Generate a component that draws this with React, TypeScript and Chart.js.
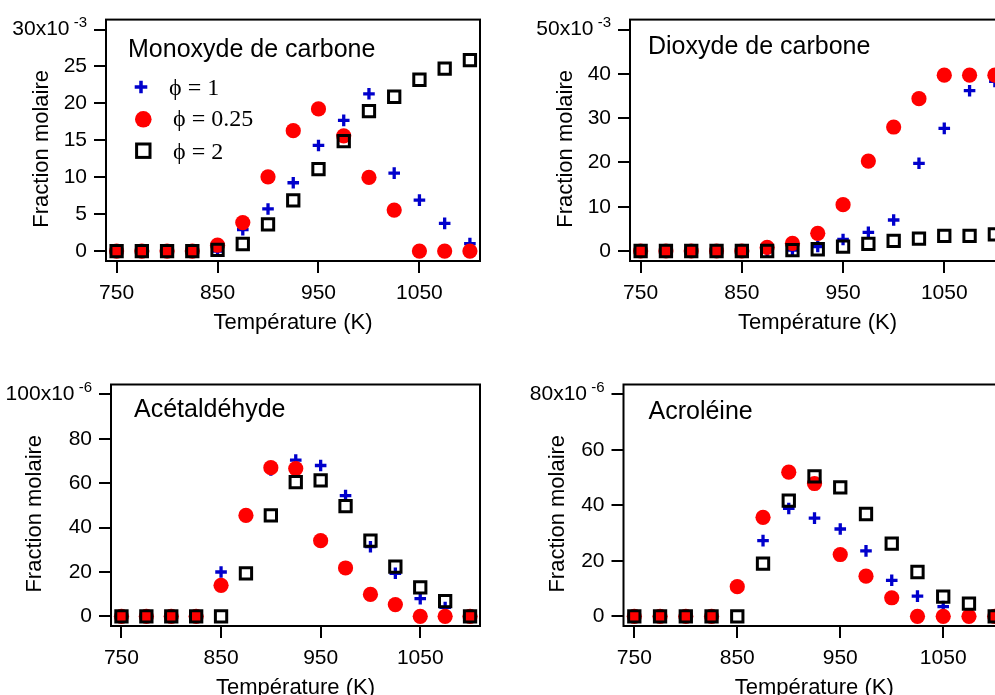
import React, { useEffect, useRef } from "react";
import { Chart, registerables } from "chart.js";

Chart.register(...registerables);

// ---------- data ----------
const TEMPERATURES = [750, 775, 800, 825, 850, 875, 900, 925, 950, 975, 1000, 1025, 1050, 1075, 1100];
const X_TICKS = [750, 850, 950, 1050];
const X_MIN = 739.5;
const X_MAX = 1110;

// Monoxyde de carbone (x10^-3)
const CO_PHI1 = [0, 0, 0, 0, 0, 2.9, 5.7, 9.25, 14.3, 17.7, 21.3, 10.55, 6.9, 3.75, 1.0];
const CO_PHI025 = [0, 0, 0, 0, 0.8, 3.85, 10.05, 16.3, 19.25, 15.6, 9.97, 5.55, 0, 0, 0];
const CO_PHI2 = [0, 0, 0, 0, 0.15, 0.95, 3.6, 6.85, 11.1, 14.9, 18.95, 20.9, 23.2, 24.7, 25.85];
const CO_TICKS = [0, 5, 10, 15, 20, 25, 30];

// Dioxyde de carbone (x10^-3)
const CO2_PHI1 = [0, 0, 0, 0, 0, 0, 0.2, 1.0, 2.6, 4.2, 7.0, 19.8, 27.7, 36.2, 38.3];
const CO2_PHI025 = [0, 0, 0, 0, 0, 0.8, 1.7, 4.0, 10.45, 20.3, 28.0, 34.4, 39.7, 39.7, 39.7];
const CO2_PHI2 = [0, 0, 0, 0, 0, 0, 0.2, 0.4, 1.0, 1.6, 2.3, 2.8, 3.4, 3.4, 3.75];
const CO2_TICKS = [0, 10, 20, 30, 40, 50];

// Acétaldéhyde (x10^-6)
const ACET_PHI1 = [0, 0, 0, 0, 20.0, 45.5, 66.0, 70.4, 68.0, 54.4, 31.4, 19.4, 8.0, 4.0, 0];
const ACET_PHI025 = [0, 0, 0, 0, 14.0, 45.5, 67.0, 66.6, 34.1, 21.8, 9.9, 5.3, 0, 0, 0];
const ACET_PHI2 = [0, 0, 0, 0, 0, 19.4, 45.5, 60.5, 61.3, 49.7, 34.1, 22.4, 13.1, 6.9, 0];
const ACET_TICKS = [0, 20, 40, 60, 80, 100];

// Acroléine (x10^-6)
const ACRO_PHI1 = [0, 0, 0, 0, 10.7, 27.3, 38.9, 35.4, 31.5, 23.6, 13.0, 7.3, 3.5, 0.5, 0];
const ACRO_PHI025 = [0, 0, 0, 0, 10.7, 35.7, 52.0, 47.9, 22.3, 14.5, 6.7, 0, 0, 0, 0];
const ACRO_PHI2 = [0, 0, 0, 0, 0, 19.0, 41.7, 50.5, 46.5, 36.9, 26.2, 16.0, 7.1, 4.6, 0];
const ACRO_TICKS = [0, 20, 40, 60, 80];

const LEGEND_LABELS = ["\u03D5 = 1", "\u03D5 = 0.25", "\u03D5 = 2"];
const X_TITLE = "Température (K)";
const Y_TITLE = "Fraction molaire";

// ---------- styles ----------
const SANS = "'Liberation Sans', Arial, Helvetica, sans-serif";
const SERIF = "'Liberation Serif', 'Times New Roman', serif";
const BLUE = "#0000CC";
const RED = "#FF0000";
const BLACK = "#000000";
const TICK_LEN = 12;
const Y_TICK_PAD = 7;
const TICK_FONT = 21;
const AXIS_TITLE_FONT = 22;

type Area = { left: number; top: number; right: number; bottom: number };
type PanelCfg = {
  key: string;
  left: number;
  top: number;
  width: number;
  height: number;
  area: Area;
  yMin: number;
  yMax: number;
  yTicks: number[];
  phi1: number[];
  phi025: number[];
  phi2: number[];
  title: string;
  exponent: string;
  titleDx: number;
  titleDy: number;
  yTitleDx: number;
  legend: boolean;
};

const PANELS: PanelCfg[] = [
  {
    key: "co", left: 0, top: 0, width: 500, height: 350,
    area: { left: 106, top: 19.5, right: 480, bottom: 261 },
    yMin: -1.35, yMax: 31.35, yTicks: CO_TICKS,
    phi1: CO_PHI1, phi025: CO_PHI025, phi2: CO_PHI2,
    title: "Monoxyde de carbone", exponent: "-3",
    titleDx: 22, titleDy: 37, yTitleDx: -64, legend: true,
  },
  {
    key: "co2", left: 500, top: 0, width: 520, height: 350,
    area: { left: 130, top: 19.5, right: 505, bottom: 261 },
    yMin: -2.26, yMax: 52.26, yTicks: CO2_TICKS,
    phi1: CO2_PHI1, phi025: CO2_PHI025, phi2: CO2_PHI2,
    title: "Dioxyde de carbone", exponent: "-3",
    titleDx: 18, titleDy: 34, yTitleDx: -64, legend: false,
  },
  {
    key: "acet", left: 0, top: 350, width: 500, height: 360,
    area: { left: 111, top: 34.5, right: 480, bottom: 276 },
    yMin: -4.35, yMax: 104.5, yTicks: ACET_TICKS,
    phi1: ACET_PHI1, phi025: ACET_PHI025, phi2: ACET_PHI2,
    title: "Acétaldéhyde", exponent: "-6",
    titleDx: 23, titleDy: 32.5, yTitleDx: -76, legend: false,
  },
  {
    key: "acro", left: 500, top: 350, width: 520, height: 360,
    area: { left: 123.5, top: 34.5, right: 505, bottom: 276 },
    yMin: -3.48, yMax: 83.6, yTicks: ACRO_TICKS,
    phi1: ACRO_PHI1, phi025: ACRO_PHI025, phi2: ACRO_PHI2,
    title: "Acroléine", exponent: "-6",
    titleDx: 25, titleDy: 34, yTitleDx: -66, legend: false,
  },
];

const decorPlugin = {
  id: "panelDecor",
  afterDraw(chart: any) {
    const o = chart.options.plugins.panelDecor;
    if (!o) return;
    const ctx = chart.ctx as CanvasRenderingContext2D;
    const a = chart.chartArea;
    ctx.save();
    // frame
    ctx.strokeStyle = BLACK;
    ctx.lineWidth = 2;
    ctx.strokeRect(a.left, a.top, a.right - a.left, a.bottom - a.top);
    ctx.fillStyle = BLACK;
    // panel title
    ctx.font = `25px ${SANS}`;
    ctx.textAlign = "left";
    ctx.textBaseline = "alphabetic";
    ctx.fillText(o.title, a.left + o.titleDx, a.top + o.titleDy);
    // x title
    ctx.font = `${AXIS_TITLE_FONT}px ${SANS}`;
    ctx.textAlign = "center";
    ctx.fillText(X_TITLE, (a.left + a.right) / 2, a.bottom + 67.5);
    // y title
    ctx.save();
    ctx.translate(a.left + o.yTitleDx, (a.top + a.bottom) / 2 + 8.5);
    ctx.rotate(-Math.PI / 2);
    ctx.textBaseline = "middle";
    ctx.fillText(Y_TITLE, 0, 0);
    ctx.restore();
    // exponent superscript on top tick label
    const ys = chart.scales.y;
    const topVal = o.yTicks[o.yTicks.length - 1];
    const py = ys.getPixelForValue(topVal);
    ctx.font = `15px ${SANS}`;
    ctx.textAlign = "right";
    ctx.textBaseline = "alphabetic";
    ctx.fillText(o.exponent, ys.right - TICK_LEN - Y_TICK_PAD, py - 2.5);
    // legend
    if (o.legend) {
      ctx.strokeStyle = BLUE;
      ctx.lineWidth = 3.5;
      const cx = 141, cy = 87, r = 6.3;
      ctx.beginPath();
      ctx.moveTo(cx - r, cy); ctx.lineTo(cx + r, cy);
      ctx.moveTo(cx, cy - r); ctx.lineTo(cx, cy + r);
      ctx.stroke();
      ctx.fillStyle = RED;
      ctx.beginPath();
      ctx.arc(143.3, 119.3, 8.3, 0, Math.PI * 2);
      ctx.fill();
      ctx.strokeStyle = BLACK;
      ctx.lineWidth = 3;
      ctx.strokeRect(143.3 - 6.7, 150.7 - 6.7, 13.4, 13.4);
      ctx.fillStyle = BLACK;
      ctx.font = `24px ${SERIF}`;
      ctx.textAlign = "left";
      ctx.textBaseline = "alphabetic";
      ctx.fillText(LEGEND_LABELS[0], 169, 95);
      ctx.fillText(LEGEND_LABELS[1], 173, 126);
      ctx.fillText(LEGEND_LABELS[2], 173, 158.5);
    }
    ctx.restore();
  },
};

function Panel({ cfg }: { cfg: PanelCfg }) {
  const ref = useRef<HTMLCanvasElement | null>(null);
  useEffect(() => {
    if (!ref.current) return;
    const toPts = (arr: number[]) => TEMPERATURES.map((t, i) => ({ x: t, y: arr[i] }));
    const topTick = cfg.yTicks[cfg.yTicks.length - 1];
    const chart = new Chart(ref.current, {
      type: "scatter",
      data: {
        datasets: [
          {
            label: LEGEND_LABELS[0],
            data: toPts(cfg.phi1),
            order: 2,
            pointStyle: "cross",
            pointRadius: 5.8,
            pointBorderWidth: 3.3,
            pointBorderColor: BLUE,
            pointBackgroundColor: BLUE,
            showLine: false,
          },
          {
            label: LEGEND_LABELS[1],
            data: toPts(cfg.phi025),
            order: 1,
            pointStyle: "circle",
            pointRadius: 7.6,
            pointBorderWidth: 0,
            pointBorderColor: RED,
            pointBackgroundColor: RED,
            showLine: false,
          },
          {
            label: LEGEND_LABELS[2],
            data: toPts(cfg.phi2),
            order: 0,
            pointStyle: "rect",
            pointRadius: 8,
            pointBorderWidth: 3,
            pointBorderColor: BLACK,
            pointBackgroundColor: "rgba(0,0,0,0)",
            showLine: false,
          },
        ] as any,
      },
      options: {
        responsive: false,
        animation: false,
        devicePixelRatio: 1,
        layout: {
          padding: {
            left: 0,
            top: cfg.area.top,
            right: cfg.width - cfg.area.right,
            bottom: 0,
          },
        },
        plugins: {
          legend: { display: false },
          tooltip: { enabled: false },
          title: { display: false },
          panelDecor: {
            title: cfg.title,
            exponent: cfg.exponent,
            titleDx: cfg.titleDx,
            titleDy: cfg.titleDy,
            yTitleDx: cfg.yTitleDx,
            legend: cfg.legend,
            yTicks: cfg.yTicks,
          },
        } as any,
        scales: {
          x: {
            type: "linear",
            min: X_MIN,
            max: X_MAX,
            afterBuildTicks: (s: any) => {
              s.ticks = X_TICKS.map((v) => ({ value: v }));
            },
            afterFit: (s: any) => {
              s.height = cfg.height - cfg.area.bottom;
            },
            grid: {
              drawOnChartArea: false,
              drawTicks: true,
              tickLength: TICK_LEN,
              lineWidth: 2,
              color: BLACK,
            },
            border: { display: false },
            ticks: {
              color: BLACK,
              font: { family: SANS, size: TICK_FONT },
              padding: 8,
              maxRotation: 0,
              autoSkip: false,
              callback: (v: any) => String(v),
            },
          },
          y: {
            type: "linear",
            min: cfg.yMin,
            max: cfg.yMax,
            afterBuildTicks: (s: any) => {
              s.ticks = cfg.yTicks.map((v) => ({ value: v }));
            },
            afterFit: (s: any) => {
              s.width = cfg.area.left;
            },
            grid: {
              drawOnChartArea: false,
              drawTicks: true,
              tickLength: TICK_LEN,
              lineWidth: 2,
              color: BLACK,
            },
            border: { display: false },
            ticks: {
              color: BLACK,
              font: { family: SANS, size: TICK_FONT },
              padding: Y_TICK_PAD,
              autoSkip: false,
              callback: (v: any) => (v === topTick ? `${v}x10   ` : String(v)),
            },
          },
        } as any,
      },
      plugins: [decorPlugin as any],
    });
    return () => chart.destroy();
  }, [cfg]);
  return (
    <canvas
      ref={ref}
      width={cfg.width}
      height={cfg.height}
      style={{ position: "absolute", left: cfg.left, top: cfg.top, width: cfg.width, height: cfg.height }}
    />
  );
}

export default function App() {
  return (
    <div
      style={{
        position: "fixed",
        left: 0,
        top: 0,
        width: 995,
        height: 695,
        overflow: "hidden",
        background: "#ffffff",
      }}
    >
      {PANELS.map((p) => (
        <Panel key={p.key} cfg={p} />
      ))}
    </div>
  );
}
